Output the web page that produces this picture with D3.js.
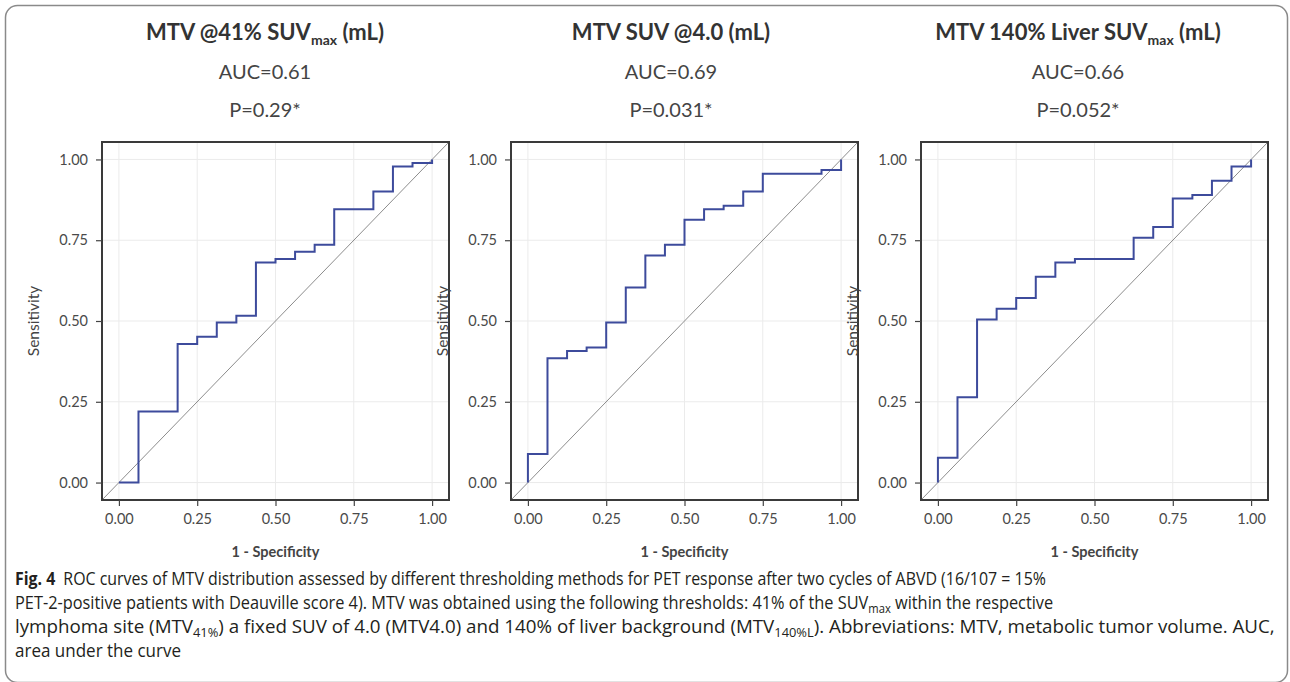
<!DOCTYPE html>
<html>
<head>
<meta charset="utf-8">
<script src="https://cdn.jsdelivr.net/npm/d3@7"></script>
<style>
  html, body { margin: 0; padding: 0; background: #fff; }
  svg { display: block; }
</style>
</head>
<body>
<svg id="chart" width="1290" height="682"></svg>
<script>
// ---------------- DATA ----------------
const panelTitles = [
  [{ t: "MTV @41% SUV" }, { t: "max", sub: true }, { t: " (mL)" }],
  [{ t: "MTV SUV @4.0 (mL)" }],
  [{ t: "MTV 140% Liver SUV" }, { t: "max", sub: true }, { t: " (mL)" }]
];
const aucLabels = ["AUC=0.61", "AUC=0.69", "AUC=0.66"];
const pLabels = ["P=0.29*", "P=0.031*", "P=0.052*"];

// ROC step vertices (1 - specificity, sensitivity)
const fpr41 = [0, 0.0625, 0.1875, 0.25, 0.3125, 0.375, 0.4375, 0.5, 0.5625, 0.625, 0.6875, 0.8125, 0.875, 0.9375, 1.0];
const tpr41 = [0, 0.220, 0.429, 0.451, 0.495, 0.516, 0.681, 0.692, 0.714, 0.736, 0.846, 0.901, 0.978, 0.989, 1.0];

const fpr40 = [0, 0, 0.0625, 0.125, 0.1875, 0.25, 0.3125, 0.375, 0.4375, 0.5, 0.5625, 0.625, 0.6875, 0.75, 0.9375, 1.0];
const tpr40 = [0, 0.088, 0.385, 0.407, 0.418, 0.495, 0.604, 0.703, 0.736, 0.813, 0.846, 0.857, 0.901, 0.956, 0.967, 1.0];

const fpr140 = [0, 0, 0.0625, 0.125, 0.1875, 0.25, 0.3125, 0.375, 0.4375, 0.625, 0.6875, 0.75, 0.8125, 0.875, 0.9375, 1.0];
const tpr140 = [0, 0.077, 0.264, 0.505, 0.538, 0.571, 0.637, 0.681, 0.692, 0.758, 0.791, 0.879, 0.890, 0.934, 0.978, 1.0];

const tickValues = [0, 0.25, 0.5, 0.75, 1.0];
const xAxisTitle = "1 - Specificity";
const yAxisTitle = "Sensitivity";

const captionLines = [
  [{ t: "Fig. 4", b: true }, { t: "\u2002ROC curves of MTV distribution assessed by different thresholding methods for PET response after two cycles of ABVD (16/107 = 15%" }],
  [{ t: "PET-2-positive patients with Deauville score 4). MTV was obtained using the following thresholds: 41% of the SUV" }, { t: "max", sub: true }, { t: " within the respective" }],
  [{ t: "lymphoma site (MTV" }, { t: "41%", sub: true }, { t: ") a fixed SUV of 4.0 (MTV4.0) and 140% of liver background (MTV" }, { t: "140%L", sub: true }, { t: "). Abbreviations: MTV, metabolic tumor volume. AUC," }],
  [{ t: "area under the curve" }]
];

const series = [
  { fpr: fpr41, tpr: tpr41 },
  { fpr: fpr40, tpr: tpr40 },
  { fpr: fpr140, tpr: tpr140 }
];

// ---------------- LAYOUT ----------------
const svg = d3.select("#chart");
const FONT = "Lato, 'Open Sans', 'DejaVu Sans', sans-serif";
const panelLeft = [102, 511, 921];
const panelW = 347;
const plotTop = 142, plotBottom = 500;
const titleCenters = [265, 671, 1078];
const domain = [-0.054, 1.054];

// outer rounded frame
svg.append("rect")
  .attr("x", 5.5).attr("y", 5.5)
  .attr("width", 1282).attr("height", 677)
  .attr("rx", 12).attr("ry", 12)
  .attr("fill", "none").attr("stroke", "#8a8a8a").attr("stroke-width", 1.5);

function addRich(textSel, parts, subSize, subShift) {
  let prevSub = false;
  parts.forEach(p => {
    const ts = textSel.append("tspan").text(p.t);
    if (p.b) ts.attr("font-weight", "bold");
    if (p.sub) { ts.attr("font-size", subSize).attr("dy", subShift); }
    else if (prevSub) { ts.attr("dy", -subShift); }
    prevSub = !!p.sub;
  });
}

series.forEach((s, i) => {
  const x0 = panelLeft[i];
  const x = d3.scaleLinear().domain(domain).range([x0, x0 + panelW]);
  const y = d3.scaleLinear().domain(domain).range([plotBottom, plotTop]);
  const g = svg.append("g");

  // titles
  const tt = g.append("text")
    .attr("x", titleCenters[i]).attr("y", 40)
    .attr("text-anchor", "middle")
    .attr("font-family", FONT).attr("font-size", 22).attr("font-weight", "bold")
    .attr("fill", "#333");
  addRich(tt, panelTitles[i], 14, 5);

  g.append("text")
    .attr("x", titleCenters[i]).attr("y", 79)
    .attr("text-anchor", "middle")
    .attr("font-family", FONT).attr("font-size", 20)
    .attr("fill", "#444").text(aucLabels[i]);
  g.append("text")
    .attr("x", titleCenters[i]).attr("y", 117)
    .attr("text-anchor", "middle")
    .attr("font-family", FONT).attr("font-size", 20)
    .attr("fill", "#444").text(pLabels[i]);

  // gridlines
  g.append("g").selectAll("line").data(tickValues).join("line")
    .attr("x1", d => x(d)).attr("x2", d => x(d))
    .attr("y1", plotTop).attr("y2", plotBottom)
    .attr("stroke", "#ebebeb").attr("stroke-width", 1);
  g.append("g").selectAll("line").data(tickValues).join("line")
    .attr("y1", d => y(d)).attr("y2", d => y(d))
    .attr("x1", x0).attr("x2", x0 + panelW)
    .attr("stroke", "#ebebeb").attr("stroke-width", 1);

  // diagonal reference
  g.append("line")
    .attr("x1", x(domain[0])).attr("y1", y(domain[0]))
    .attr("x2", x(domain[1])).attr("y2", y(domain[1]))
    .attr("stroke", "#8c8c8c").attr("stroke-width", 1);

  // ROC step curve
  const pts = s.fpr.map((f, k) => [f, s.tpr[k]]);
  g.append("path")
    .datum(pts)
    .attr("d", d3.line().x(d => x(d[0])).y(d => y(d[1])).curve(d3.curveStepAfter))
    .attr("fill", "none").attr("stroke", "#3d4b9c").attr("stroke-width", 2);

  // frame
  g.append("rect")
    .attr("x", x0).attr("y", plotTop)
    .attr("width", panelW).attr("height", plotBottom - plotTop)
    .attr("fill", "none").attr("stroke", "#3a3a3a").attr("stroke-width", 2);

  // axes
  const fmt = d3.format(".2f");
  const ax = g.append("g").attr("transform", `translate(0,${plotBottom})`)
    .call(d3.axisBottom(x).tickValues(tickValues).tickFormat(fmt).tickSize(6).tickPadding(8));
  const ay = g.append("g").attr("transform", `translate(${x0},0)`)
    .call(d3.axisLeft(y).tickValues(tickValues).tickFormat(fmt).tickSize(6).tickPadding(8));
  [ax, ay].forEach(a => {
    a.select(".domain").remove();
    a.selectAll(".tick line").attr("stroke", "#444").attr("stroke-width", 1.2);
    a.selectAll(".tick text").attr("font-family", FONT).attr("font-size", 14.5).attr("fill", "#4a4a4a");
  });

  // axis titles
  g.append("text")
    .attr("x", x(0.5)).attr("y", 557)
    .attr("text-anchor", "middle")
    .attr("font-family", FONT).attr("font-size", 14.5).attr("font-weight", "bold")
    .attr("fill", "#444").text(xAxisTitle);
  g.append("text")
    .attr("transform", `translate(${x0 - 63},${(plotTop + plotBottom) / 2}) rotate(-90)`)
    .attr("text-anchor", "middle")
    .attr("font-family", FONT).attr("font-size", 15.5)
    .attr("fill", "#444").text(yAxisTitle);
});

// caption (condensed by horizontal scaling toward the reference line widths)
const capWidths = [1032, 1039, 1261, 214];
const capBase = [585, 609, 633, 657];
const capScales = [];
captionLines.forEach((parts, i) => {
  const t = svg.append("text")
    .attr("x", 0).attr("y", 0)
    .attr("font-family", "'Open Sans', 'Noto Sans', sans-serif")
    .attr("font-size", 17.5)
    .attr("fill", "#231f20");
  addRich(t, parts, 12, 4);
  const w = t.node().getComputedTextLength();
  let sc = capWidths[i] / w;
  if (i === captionLines.length - 1) sc = Math.min(sc, d3.mean(capScales));
  capScales.push(sc);
  t.attr("transform", `translate(15,${capBase[i]}) scale(${sc},1)`);
});
</script>
</body>
</html>
